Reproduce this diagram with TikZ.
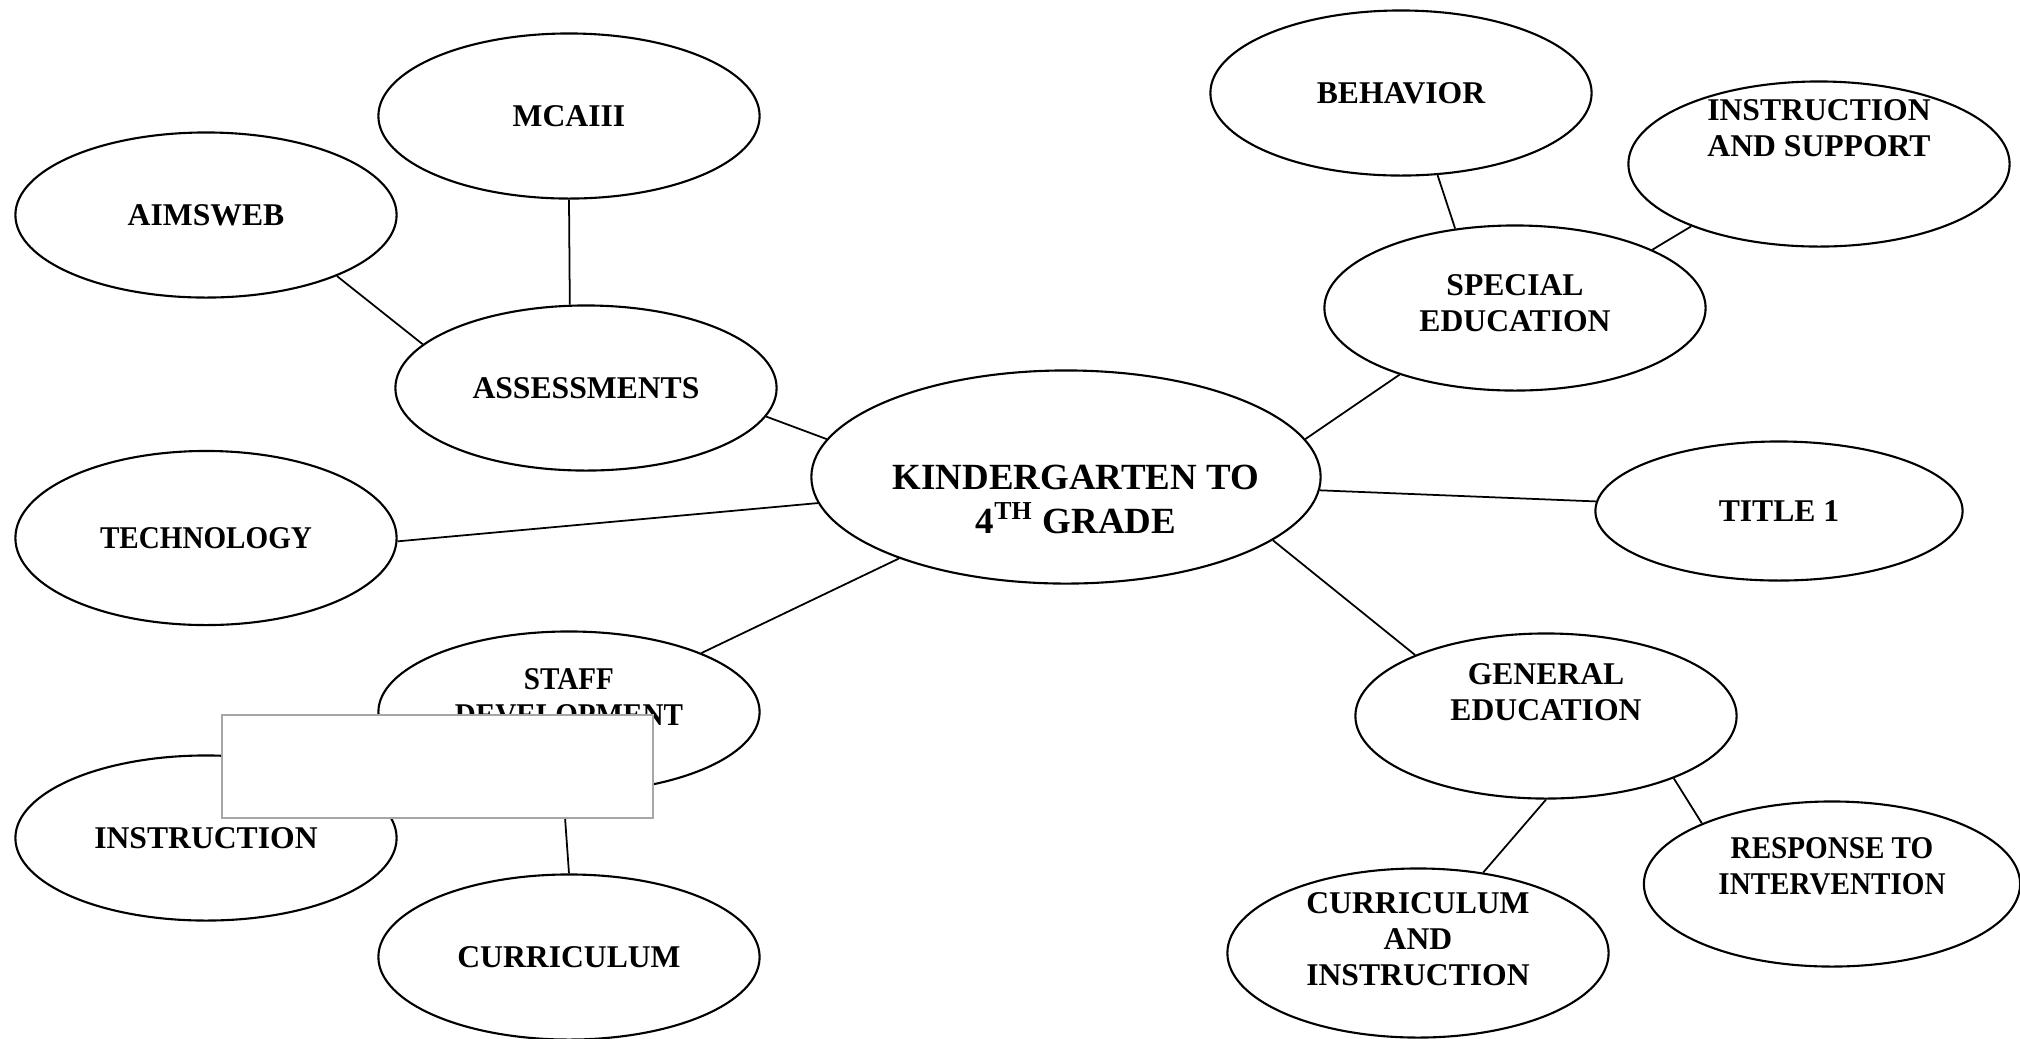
\documentclass[tikz,border=0pt]{standalone}
\usepackage{fontspec}
\setmainfont{Liberation Serif}
\newfontfamily\narrowfont{Liberation Serif}[FakeStretch=0.92]
\usetikzlibrary{shapes.geometric}
\tikzset{
  bubble/.style={draw, ellipse, line width=0.6pt, minimum width=3.81cm, minimum height=1.65cm, inner sep=0pt},
  every label/.style={font=\fontsize{9}{10.2}\selectfont\bfseries, align=center, inner sep=0pt},
  narrow/.style={font=\narrowfont\fontsize{9}{10.2}\selectfont\bfseries},
  link/.style={line width=0.5pt},
}
\begin{document}
\begin{tikzpicture}[x=0.01cm, y=-0.01cm]
      \fill[white] (0,0) rectangle (2020,1038);
      \useasboundingbox (0,0) rectangle (2020,1038);
      % left side
      \node[bubble, label=center:MCAIII] (mcaiii) at (569,116) {};
      \node[bubble, label=center:AIMSWEB] (aimsweb) at (206,215) {};
      \node[bubble, label=center:ASSESSMENTS] (assess) at (586,388) {};
      \node[bubble, minimum height=1.74cm, label={[narrow]center:TECHNOLOGY}] (tech) at (206,538) {};
      \node[bubble, minimum height=1.61cm, label={[narrow, yshift=0.15cm]center:STAFF\\DEVELOPMENT}] (staff) at (569,712) {};
      \node[bubble, label=center:INSTRUCTION] (instr) at (206,838) {};
      \node[bubble, label=center:CURRICULUM] (curric) at (569,957) {};
      % middle
      \node[bubble, minimum width=5.09cm, minimum height=2.13cm,
        label={[font=\fontsize{10.5}{12.5}\selectfont\bfseries, xshift=0.1cm, yshift=-0.22cm]center:KINDERGARTEN TO\\4\textsuperscript{TH} GRADE}] (k4) at (1066,477) {};
      % right side
      \node[bubble, label=center:BEHAVIOR] (behavior) at (1401,93) {};
      \node[bubble, label={[yshift=0.36cm]center:INSTRUCTION\\AND SUPPORT}] (support) at (1819,164) {};
      \node[bubble, label={[yshift=0.05cm]center:SPECIAL\\EDUCATION}] (sped) at (1515,308) {};
      \node[bubble, minimum width=3.67cm, minimum height=1.39cm, label=center:TITLE 1] (title) at (1779,511) {};
      \node[bubble, label={[yshift=0.24cm]center:GENERAL\\EDUCATION}] (gened) at (1546,716) {};
      \node[bubble, minimum width=3.76cm, label={[narrow, yshift=0.18cm]center:RESPONSE TO\\INTERVENTION}] (rti) at (1832,884) {};
      \node[bubble, minimum height=1.69cm, label={[yshift=0.14cm]center:CURRICULUM\\AND\\INSTRUCTION}] (ci) at (1418,953) {};
      % links
      \draw[link] (assess.101) -- (mcaiii.south);
      \draw[link] (aimsweb.-25) -- (assess.165);
      \draw[link] (assess.-9) -- (k4.171);
      \draw[link] (tech.-1) -- (k4.186);
      \draw[link] (staff.24) -- (k4.206);
      \draw[link] (staff.266) -- (curric.north);
      \draw[link] (k4.9) -- (sped.210);
      \draw[link] (behavior.294) -- (sped.127);
      \draw[link] (support.206) -- (sped.23);
      \draw[link] (k4.-3) -- (title.177);
      \draw[link] (k4.-17) -- (gened.155);
      \draw[link] (gened.south) -- (ci.51);
      \draw[link] (gened.-26) -- (rti.155);
      % blank box on top
      \node[draw=gray!70, fill=white, line width=0.6pt, minimum width=4.31cm, minimum height=1.03cm] (blank) at (437.5,766.5) {};
\end{tikzpicture}
\end{document}
